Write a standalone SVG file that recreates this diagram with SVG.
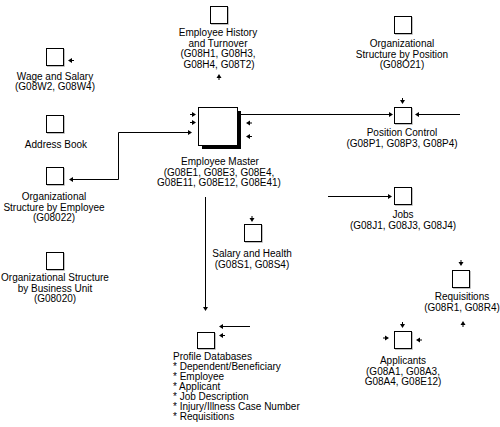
<svg xmlns="http://www.w3.org/2000/svg" xmlns:xlink="http://www.w3.org/1999/xlink" width="500" height="427" viewBox="0 0 500 427">
<style>
text{font-family:"Liberation Sans",Arial,sans-serif;font-size:10px;fill:#000;text-anchor:middle}
.l{text-anchor:start}
.box{fill:#fff;stroke:#000;stroke-width:1}
.sh{fill:none;stroke:#c0c0c0;stroke-width:1}
.ln{fill:none;stroke:#000;stroke-width:1}
.ah{fill:#000}
</style>
<defs>
<path id="ar" d="M0,0 L-4,-2.5 L-4,2.5 Z M-6,-0.5 H-4 V0.5 H-6 Z"/>
<path id="al" d="M0,0 L4,-2.5 L4,2.5 Z M6,-0.5 H4 V0.5 H6 Z"/>
<path id="ad" d="M0,0 L-2.5,-4 L2.5,-4 Z M-0.5,-6 V-4 H0.5 V-6 Z"/>
<path id="au" d="M0,0 L-2.5,4 L2.5,4 Z M-0.5,6 V4 H0.5 V6 Z"/>
</defs>
<rect width="500" height="427" fill="#fff"/>

<g id="connectors">
<polyline class="ln" points="72,179.5 118.5,179.5 118.5,132.5 189,132.5"/>
<use href="#ar" class="ah" x="192" y="132.5"/>
<line class="ln" x1="241" y1="114.5" x2="390" y2="114.5"/>
<use href="#ar" class="ah" x="393" y="114.5"/>
<line class="ln" x1="418" y1="114.5" x2="460" y2="114.5"/>
<use href="#al" class="ah" x="415" y="114.5"/>
<line class="ln" x1="328" y1="196.5" x2="389" y2="196.5"/>
<use href="#ar" class="ah" x="392" y="196.5"/>
<line class="ln" x1="205.5" y1="197" x2="205.5" y2="307"/>
<use href="#ad" class="ah" x="205.5" y="311"/>
<line class="ln" x1="222" y1="326.5" x2="250" y2="326.5"/>
<use href="#al" class="ah" x="219" y="326.5"/>
</g>

<g id="wage-salary">
<rect class="box" x="46.5" y="48.5" width="17" height="17"/>
<polyline class="sh" points="64.5,49 64.5,66.5 47,66.5"/>
<use href="#al" class="ah" x="68" y="60.5"/>
<text x="55" y="79.5">Wage and Salary</text>
<text x="55" y="90">(G08W2, G08W4)</text>
</g>

<g id="address-book">
<rect class="box" x="46.5" y="115.5" width="17" height="17"/>
<polyline class="sh" points="64.5,116 64.5,133.5 47,133.5"/>
<text x="56" y="147.5">Address Book</text>
</g>

<g id="org-employee">
<rect class="box" x="46.5" y="167.5" width="17" height="17"/>
<polyline class="sh" points="64.5,168 64.5,185.5 47,185.5"/>
<use href="#al" class="ah" x="69" y="179.5"/>
<text x="54" y="200">Organizational</text>
<text x="54" y="210.5">Structure by Employee</text>
<text x="54" y="221">(G08022)</text>
</g>

<g id="org-bu">
<rect class="box" x="46.5" y="252.5" width="17" height="17"/>
<polyline class="sh" points="64.5,253 64.5,270.5 47,270.5"/>
<text x="55" y="281">Organizational Structure</text>
<text x="55" y="291.5">by Business Unit</text>
<text x="55" y="302">(G08020)</text>
</g>

<g id="employee-history">
<rect class="box" x="210.5" y="6.5" width="17" height="17"/>
<polyline class="sh" points="228.5,7 228.5,24.5 211,24.5"/>
<text x="218" y="36">Employee History</text>
<text x="218" y="46.5">and Turnover</text>
<text x="218" y="57">(G08H1, G08H3,</text>
<text x="219" y="67.5">G08H4, G08T2)</text>
<use href="#au" class="ah" x="219" y="74"/>
</g>

<g id="org-position">
<rect class="box" x="394.5" y="16.5" width="17" height="17"/>
<polyline class="sh" points="412.5,17 412.5,34.5 395,34.5"/>
<text x="402" y="47">Organizational</text>
<text x="402" y="57.5">Structure by Position</text>
<text x="402" y="68">(G08O21)</text>
</g>

<g id="employee-master">
<rect x="202" y="111" width="39" height="38" fill="#000"/>
<rect class="box" x="198.5" y="107.5" width="39" height="38"/>
<use href="#ar" class="ah" x="196" y="114.5"/>
<use href="#ar" class="ah" x="196" y="122.5"/>
<use href="#al" class="ah" x="246" y="123"/>
<use href="#al" class="ah" x="246" y="136.5"/>
<text x="220" y="165">Employee Master</text>
<text x="219" y="175.5">(G08E1, G08E3, G08E4,</text>
<text x="219" y="186">G08E11, G08E12, G08E41)</text>
</g>

<g id="position-control">
<rect class="box" x="394.5" y="107.5" width="17" height="16"/>
<polyline class="sh" points="412.5,108 412.5,124.5 395,124.5"/>
<use href="#ad" class="ah" x="402.5" y="104"/>
<text x="402" y="136">Position Control</text>
<text x="402" y="146.5">(G08P1, G08P3, G08P4)</text>
</g>

<g id="jobs">
<rect class="box" x="394.5" y="187.5" width="17" height="17"/>
<polyline class="sh" points="412.5,188 412.5,205.5 395,205.5"/>
<text x="403" y="218">Jobs</text>
<text x="403" y="228.5">(G08J1, G08J3, G08J4)</text>
</g>

<g id="salary-health">
<rect class="box" x="244.5" y="224.5" width="17" height="17"/>
<polyline class="sh" points="262.5,225 262.5,242.5 245,242.5"/>
<use href="#ad" class="ah" x="252" y="222"/>
<text x="252" y="257">Salary and Health</text>
<text x="252" y="267.5">(G08S1, G08S4)</text>
</g>

<g id="requisitions">
<rect class="box" x="452.5" y="270.5" width="17" height="17"/>
<polyline class="sh" points="470.5,271 470.5,288.5 453,288.5"/>
<use href="#ad" class="ah" x="461" y="266"/>
<text x="462" y="300">Requisitions</text>
<text x="462" y="310.5">(G08R1, G08R4)</text>
<use href="#au" class="ah" x="463" y="321"/>
</g>

<g id="applicants">
<rect class="box" x="394.5" y="331.5" width="17" height="17"/>
<polyline class="sh" points="412.5,332 412.5,349.5 395,349.5"/>
<use href="#ad" class="ah" x="402.5" y="328"/>
<use href="#ar" class="ah" x="389" y="338"/>
<use href="#al" class="ah" x="416" y="340"/>
<text x="403" y="364">Applicants</text>
<text x="403" y="374.5">(G08A1, G08A3,</text>
<text x="403" y="385">G08A4, G08E12)</text>
</g>

<g id="profile-databases">
<rect class="box" x="197.5" y="332.5" width="17" height="16"/>
<polyline class="sh" points="215.5,333 215.5,349.5 198,349.5"/>
<use href="#al" class="ah" x="219" y="335.5"/>
<text class="l" x="173" y="360">Profile Databases</text>
<text class="l" x="173" y="370">* Dependent/Beneficiary</text>
<text class="l" x="173" y="380">* Employee</text>
<text class="l" x="173" y="390">* Applicant</text>
<text class="l" x="173" y="400">* Job Description</text>
<text class="l" x="173" y="410">* Injury/Illness Case Number</text>
<text class="l" x="173" y="420">* Requisitions</text>
</g>
</svg>
